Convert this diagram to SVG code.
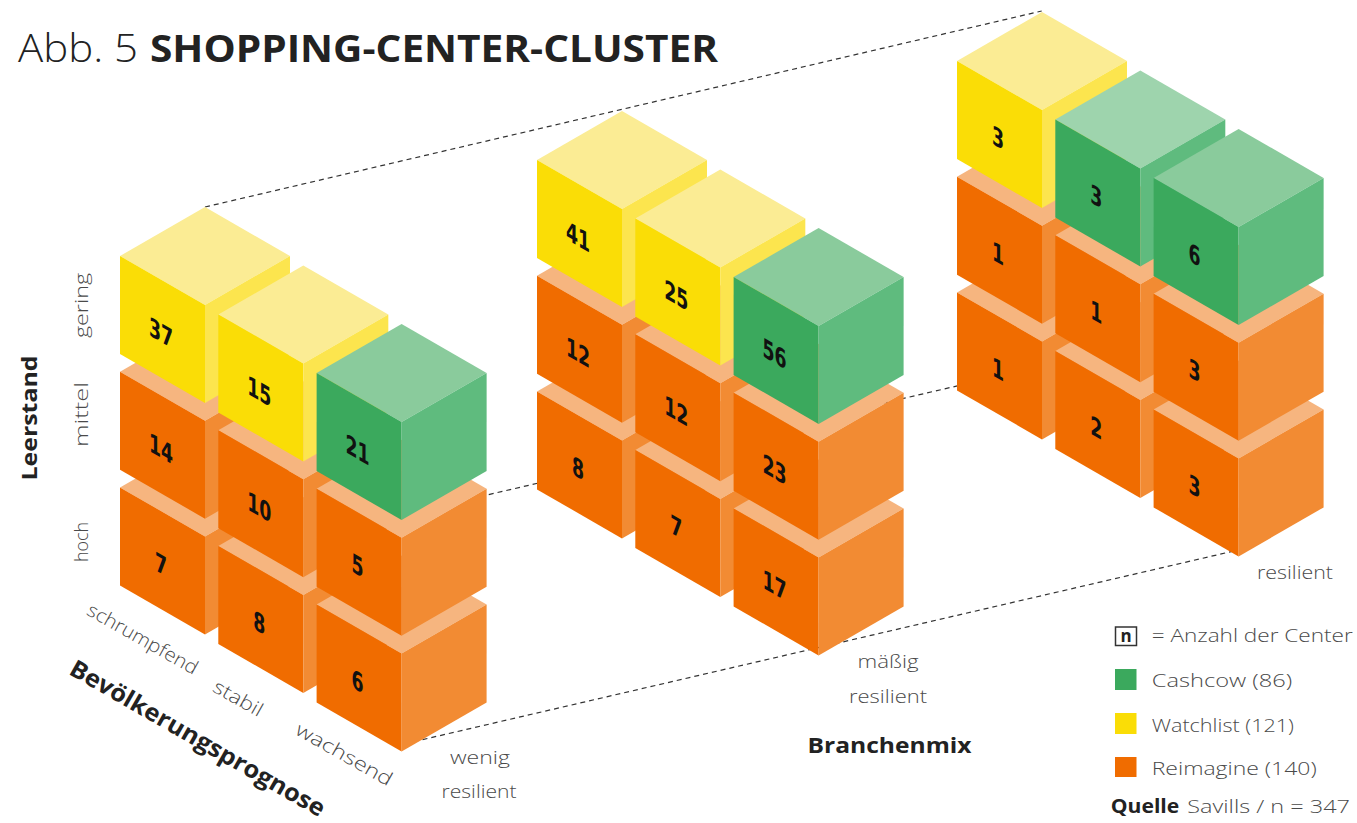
<svg xmlns="http://www.w3.org/2000/svg" xmlns:xlink="http://www.w3.org/1999/xlink" width="1357" height="823" viewBox="0 0 1357 823">
<style>
.oT{fill:#F6B57F}.oF{fill:#F06C00}.oR{fill:#F28B33}
.yT{fill:#FBEC94}.yF{fill:#FADD06}.yR{fill:#FCE54E}
.gT{fill:#8ACB9C}.gT2{fill:#9ED4AD}.gF{fill:#3BA95D}.gR{fill:#5FBB7E}
.num{font-family:"DejaVu Sans Condensed","DejaVu Sans",sans-serif;font-weight:bold;font-size:26px;text-anchor:middle;fill:#111}
.lbl{font-family:"Open Sans","Liberation Sans",sans-serif;font-weight:300;font-size:19px;fill:#4a4a4a}
.bld{font-family:"Open Sans","Liberation Sans",sans-serif;font-weight:700;fill:#222}
.mid{text-anchor:middle}
.dash{stroke:#333;stroke-width:1.2;stroke-dasharray:5 4;fill:none}
</style>
<defs>
<g id="cubeO"><polygon class="oT" points="0,0 85,-49 170,0 85,49"/><polygon class="oF" points="0,0 85,49 85,147 0,98"/><polygon class="oR" points="85,49 170,0 170,98 85,147"/></g>
<g id="cubeY"><polygon class="yT" points="0,0 85,-49 170,0 85,49"/><polygon class="yF" points="0,0 85,49 85,147 0,98"/><polygon class="yR" points="85,49 170,0 170,98 85,147"/></g>
<g id="cubeG"><polygon class="gT" points="0,0 85,-49 170,0 85,49"/><polygon class="gF" points="0,0 85,49 85,147 0,98"/><polygon class="gR" points="85,49 170,0 170,98 85,147"/></g>
<g id="cubeG2"><polygon class="gT2" points="0,0 85,-49 170,0 85,49"/><polygon class="gF" points="0,0 85,49 85,147 0,98"/><polygon class="gR" points="85,49 170,0 170,98 85,147"/></g>
</defs>
<rect width="1357" height="823" fill="#fff"/>

<g id="connectors">
<path class="dash" d="M205,207 L1041.7,11"/>
<path class="dash" d="M480,496.6 L1000,376"/>
<path class="dash" d="M405,743.7 L1236,550.5"/>
</g>

<g id="cluster-wenig-resilient">
<g id="c1-hoch-schrumpfend"><use href="#cubeO" x="120" y="487.4"/><text class="num" transform="translate(161,563.9) skewY(30) scale(0.74,1)" y="9.5">7</text></g>
<g id="c1-mittel-schrumpfend"><use href="#cubeO" x="120" y="371.7"/><text class="num" transform="translate(161,448.2) skewY(30) scale(0.74,1)" y="9.5">14</text></g>
<g id="c1-gering-schrumpfend"><use href="#cubeY" x="120" y="256"/><text class="num" transform="translate(161,332.5) skewY(30) scale(0.74,1)" y="9.5">37</text></g>
<g id="c1-hoch-stabil"><use href="#cubeO" x="218.3" y="545.9"/><text class="num" transform="translate(259.3,622.4) skewY(30) scale(0.74,1)" y="9.5">8</text></g>
<g id="c1-mittel-stabil"><use href="#cubeO" x="218.3" y="430.2"/><text class="num" transform="translate(259.3,506.7) skewY(30) scale(0.74,1)" y="9.5">10</text></g>
<g id="c1-gering-stabil"><use href="#cubeY" x="218.3" y="314.5"/><text class="num" transform="translate(259.3,391) skewY(30) scale(0.74,1)" y="9.5">15</text></g>
<g id="c1-hoch-wachsend"><use href="#cubeO" x="316.6" y="604.4"/><text class="num" transform="translate(357.6,680.9) skewY(30) scale(0.74,1)" y="9.5">6</text></g>
<g id="c1-mittel-wachsend"><use href="#cubeO" x="316.6" y="488.7"/><text class="num" transform="translate(357.6,565.2) skewY(30) scale(0.74,1)" y="9.5">5</text></g>
<g id="c1-gering-wachsend"><use href="#cubeG" x="316.6" y="373"/><text class="num" transform="translate(357.6,449.5) skewY(30) scale(0.74,1)" y="9.5">21</text></g>
</g>

<g id="cluster-maessig-resilient">
<g id="c2-hoch-schrumpfend"><use href="#cubeO" x="537" y="391.4"/><text class="num" transform="translate(578,467.9) skewY(30) scale(0.74,1)" y="9.5">8</text></g>
<g id="c2-mittel-schrumpfend"><use href="#cubeO" x="537" y="275.7"/><text class="num" transform="translate(578,352.2) skewY(30) scale(0.74,1)" y="9.5">12</text></g>
<g id="c2-gering-schrumpfend"><use href="#cubeY" x="537" y="160"/><text class="num" transform="translate(578,236.5) skewY(30) scale(0.74,1)" y="9.5">41</text></g>
<g id="c2-hoch-stabil"><use href="#cubeO" x="635.3" y="449.9"/><text class="num" transform="translate(676.3,526.4) skewY(30) scale(0.74,1)" y="9.5">7</text></g>
<g id="c2-mittel-stabil"><use href="#cubeO" x="635.3" y="334.2"/><text class="num" transform="translate(676.3,410.7) skewY(30) scale(0.74,1)" y="9.5">12</text></g>
<g id="c2-gering-stabil"><use href="#cubeY" x="635.3" y="218.5"/><text class="num" transform="translate(676.3,295) skewY(30) scale(0.74,1)" y="9.5">25</text></g>
<g id="c2-hoch-wachsend"><use href="#cubeO" x="733.6" y="508.4"/><text class="num" transform="translate(774.6,584.9) skewY(30) scale(0.74,1)" y="9.5">17</text></g>
<g id="c2-mittel-wachsend"><use href="#cubeO" x="733.6" y="392.7"/><text class="num" transform="translate(774.6,469.2) skewY(30) scale(0.74,1)" y="9.5">23</text></g>
<g id="c2-gering-wachsend"><use href="#cubeG" x="733.6" y="277"/><text class="num" transform="translate(774.6,353.5) skewY(30) scale(0.74,1)" y="9.5">56</text></g>
</g>

<g id="cluster-resilient">
<g id="c3-hoch-schrumpfend"><use href="#cubeO" x="957" y="292.4"/><text class="num" transform="translate(998,368.9) skewY(30) scale(0.74,1)" y="9.5">1</text></g>
<g id="c3-mittel-schrumpfend"><use href="#cubeO" x="957" y="176.7"/><text class="num" transform="translate(998,253.2) skewY(30) scale(0.74,1)" y="9.5">1</text></g>
<g id="c3-gering-schrumpfend"><use href="#cubeY" x="957" y="61"/><text class="num" transform="translate(998,137.5) skewY(30) scale(0.74,1)" y="9.5">3</text></g>
<g id="c3-hoch-stabil"><use href="#cubeO" x="1055.3" y="350.9"/><text class="num" transform="translate(1096.3,427.4) skewY(30) scale(0.74,1)" y="9.5">2</text></g>
<g id="c3-mittel-stabil"><use href="#cubeO" x="1055.3" y="235.2"/><text class="num" transform="translate(1096.3,311.7) skewY(30) scale(0.74,1)" y="9.5">1</text></g>
<g id="c3-gering-stabil"><use href="#cubeG2" x="1055.3" y="119.5"/><text class="num" transform="translate(1096.3,196) skewY(30) scale(0.74,1)" y="9.5">3</text></g>
<g id="c3-hoch-wachsend"><use href="#cubeO" x="1153.6" y="409.4"/><text class="num" transform="translate(1194.6,485.9) skewY(30) scale(0.74,1)" y="9.5">3</text></g>
<g id="c3-mittel-wachsend"><use href="#cubeO" x="1153.6" y="293.7"/><text class="num" transform="translate(1194.6,370.2) skewY(30) scale(0.74,1)" y="9.5">3</text></g>
<g id="c3-gering-wachsend"><use href="#cubeG" x="1153.6" y="178"/><text class="num" transform="translate(1194.6,254.5) skewY(30) scale(0.74,1)" y="9.5">6</text></g>
</g>

<g id="title">
<text x="18" y="62" font-family="Open Sans, Liberation Sans, sans-serif" font-weight="300" font-size="39" fill="#222" textLength="120" lengthAdjust="spacingAndGlyphs">Abb. 5</text>
<text x="150" y="62" class="bld" font-size="37" textLength="568" lengthAdjust="spacingAndGlyphs">SHOPPING-CENTER-CLUSTER</text>
</g>

<g id="axis-leerstand">
<text class="bld mid" font-size="22" transform="translate(37,418) rotate(-90)" textLength="125" lengthAdjust="spacingAndGlyphs">Leerstand</text>
<text class="lbl mid" transform="translate(88,305.5) rotate(-90)" textLength="65" lengthAdjust="spacingAndGlyphs">gering</text>
<text class="lbl mid" transform="translate(88,414.5) rotate(-90)" textLength="65" lengthAdjust="spacingAndGlyphs">mittel</text>
<text class="lbl mid" transform="translate(88,542) rotate(-90)" textLength="40" lengthAdjust="spacingAndGlyphs">hoch</text>
</g>

<g id="axis-bevoelkerung">
<text class="lbl mid" transform="translate(139.5,644.5) rotate(29.5)" textLength="124" lengthAdjust="spacingAndGlyphs">schrumpfend</text>
<text class="lbl mid" transform="translate(235,704) rotate(29.5)" textLength="54" lengthAdjust="spacingAndGlyphs">stabil</text>
<text class="lbl mid" transform="translate(341,760) rotate(29.5)" textLength="108" lengthAdjust="spacingAndGlyphs">wachsend</text>
<text class="bld mid" font-size="24" transform="translate(193.5,745.5) rotate(29.8)" textLength="290" lengthAdjust="spacingAndGlyphs">Bevölkerungsprognose</text>
</g>

<g id="axis-branchenmix">
<text class="lbl mid" x="480" y="764" textLength="60" lengthAdjust="spacingAndGlyphs">wenig</text>
<text class="lbl mid" x="479" y="798" textLength="75" lengthAdjust="spacingAndGlyphs">resilient</text>
<text class="lbl mid" x="888" y="668" textLength="61" lengthAdjust="spacingAndGlyphs">mäßig</text>
<text class="lbl mid" x="888" y="703" textLength="78" lengthAdjust="spacingAndGlyphs">resilient</text>
<text class="lbl mid" x="1295" y="579" textLength="76" lengthAdjust="spacingAndGlyphs">resilient</text>
<text class="bld mid" font-size="22" x="889.5" y="753" textLength="164" lengthAdjust="spacingAndGlyphs">Branchenmix</text>
</g>

<g id="legend">
<rect x="1115.5" y="627" width="21" height="18.5" fill="none" stroke="#333" stroke-width="1.5"/>
<text class="bld mid" font-size="17" x="1126" y="642">n</text>
<text class="lbl" font-size="20" x="1151.7" y="641.7" textLength="201" lengthAdjust="spacingAndGlyphs">= Anzahl der Center</text>
<rect x="1115" y="669" width="21.5" height="21" class="gF"/>
<text class="lbl" font-size="20" x="1151.7" y="687" textLength="140.6" lengthAdjust="spacingAndGlyphs">Cashcow (86)</text>
<rect x="1115" y="713" width="21.5" height="21" class="yF"/>
<text class="lbl" font-size="20" x="1151.7" y="731.5" textLength="142.3" lengthAdjust="spacingAndGlyphs">Watchlist (121)</text>
<rect x="1115" y="757" width="21.5" height="20" class="oF"/>
<text class="lbl" font-size="20" x="1151.7" y="775" textLength="165" lengthAdjust="spacingAndGlyphs">Reimagine (140)</text>
<text class="bld" font-size="20" x="1110.7" y="813" textLength="68.6" lengthAdjust="spacingAndGlyphs">Quelle</text>
<text class="lbl" font-size="20" x="1187.3" y="813" textLength="162.7" lengthAdjust="spacingAndGlyphs">Savills / n = 347</text>
</g>
</svg>
